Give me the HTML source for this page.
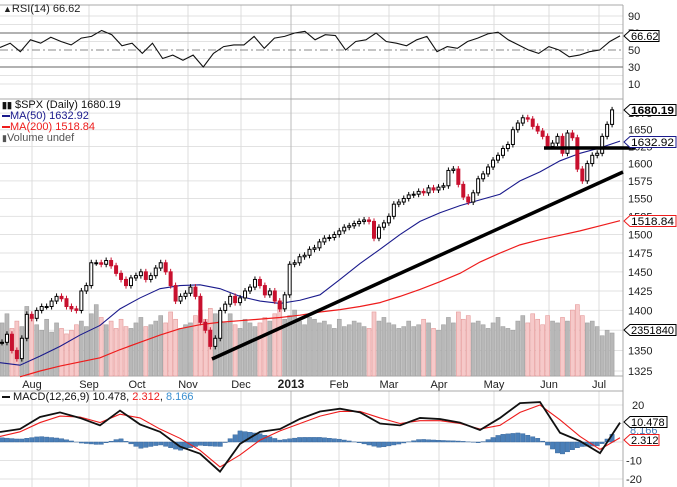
<!DOCTYPE html>
<html><head><meta charset="utf-8"><style>
body{margin:0;background:#fff;}
svg{display:block;font-family:"Liberation Sans",Arial,sans-serif;}
</style></head><body>
<svg id="c" width="677" height="487" viewBox="0 0 677 487"></svg>
<script>
// ---- data ----
const closes=[1360,1370,1350,1340,1365,1395,1390,1400,1405,1405,1412,1418,1415,1405,1402,1400,1425,1432,1462,1462,1460,1465,1458,1448,1440,1432,1442,1445,1450,1440,1445,1455,1462,1450,1432,1412,1418,1422,1430,1418,1385,1375,1355,1365,1400,1408,1418,1410,1416,1425,1430,1440,1432,1420,1425,1412,1402,1420,1460,1462,1470,1472,1480,1482,1490,1495,1496,1500,1505,1510,1512,1515,1518,1520,1518,1495,1510,1516,1525,1542,1545,1550,1555,1556,1560,1558,1565,1562,1566,1568,1590,1592,1570,1552,1545,1558,1578,1585,1595,1605,1612,1622,1628,1650,1660,1668,1666,1655,1648,1640,1625,1630,1640,1615,1645,1638,1592,1575,1600,1612,1615,1640,1658,1680];
const volumes=[2.9,3.4,2.6,3.0,2.7,3.8,3.2,2.8,2.5,3.1,2.4,2.9,2.6,2.3,2.5,2.8,3.0,2.7,3.4,3.9,3.2,2.8,3.0,2.6,3.1,2.7,2.6,2.9,3.2,2.7,2.8,3.0,3.3,2.9,3.5,3.1,2.6,2.8,2.9,3.3,3.6,3.1,3.7,3.4,3.0,2.9,3.4,2.8,2.6,3.1,2.9,2.7,2.9,3.2,3.0,3.4,4.0,3.1,3.3,3.6,3.0,2.8,3.2,3.1,2.9,3.0,2.8,2.6,3.1,2.7,2.8,3.0,2.9,2.7,2.6,3.5,3.0,3.2,2.9,2.8,2.6,2.7,3.0,2.7,2.8,3.1,2.9,2.6,2.5,2.8,3.2,2.9,3.5,3.1,3.3,2.9,3.0,2.8,2.6,2.9,3.2,2.7,2.6,2.5,3.0,3.3,2.9,3.4,3.1,2.8,3.3,3.0,2.9,3.2,3.0,3.6,3.9,3.3,2.9,3.0,2.7,2.2,2.5,2.35];
const ma50=[1335,1332,1343,1355,1369,1381,1402,1416,1428,1432,1433,1428,1418,1412,1409,1413,1420,1440,1461,1480,1500,1518,1530,1540,1548,1556,1575,1588,1604,1615,1623,1633];
const ma200=[null,1318,1325,1331,1336,1341,1351,1360,1369,1377,1382,1385,1387,1389,1391,1394,1398,1401,1405,1410,1418,1427,1437,1448,1463,1475,1486,1493,1499,1505,1512,1519];
const rsi=[53,58,48,62,58,65,60,56,64,66,73,68,55,58,46,58,40,44,38,44,30,46,54,56,56,66,52,64,66,70,72,62,68,67,50,60,62,70,60,58,55,62,66,48,54,52,60,64,69,71,62,56,50,46,54,50,42,44,48,50,60,66.6];
const macd=[5.4,7,13.5,16,13,9,17,9.5,5.5,-2.5,-6.3,-16,-1,5.5,7,12.5,16.5,18,16,10,9,13,12.4,10.5,6.5,13,21,21.6,5,0.5,-6,10.5];
const signal=[3,5.5,10.5,14,13.5,10.5,15,13,7,2,-4.5,-13.5,-7,1,6,10,14,16.5,16.5,13,10,11.5,11.5,10,7,9,16,20,12,3,-4,2.3];
const monthLabels=["Aug","Sep","Oct","Nov","Dec","2013","Feb","Mar","Apr","May","Jun","Jul"];
const monthX=[32,89,137,188,241,291,339,389,439,494,549,599];
const priceTicks=[1325,1350,1375,1400,1425,1450,1475,1500,1525,1550,1575,1600,1625,1650,1675];
const rsiTicks=[90,70,50,30,10];
const macdTicks=[20,10,0,-10,-20];

// ---- scales ----
const R=623;
const bx=i=>2+i*4.96;
const py=p=>371-1100*Math.log(p/1325);
const vy=v=>376-v*18.3;
const ry=v=>50-(v-50)*0.85;
const my=v=>442-v*1.85;
const sx=i=>i*20;
const rx=i=>i*620/(rsi.length-1);

const svg=document.getElementById('c');
const NS='http://www.w3.org/2000/svg';
function el(tag,attrs,parent){const e=document.createElementNS(NS,tag);for(const k in attrs)e.setAttribute(k,attrs[k]);(parent||svg).appendChild(e);return e;}

// grid
const grid=el('g',{});


for(let v=90;v>=10;v-=10){if(v===70||v===30||v===50)continue;el('line',{x1:0,x2:R,y1:ry(v),y2:ry(v),stroke:'#e2e2e2'},grid);}
priceTicks.forEach(p=>el('line',{x1:0,x2:R,y1:py(p),y2:py(p),stroke:'#e2e2e2'},grid));
macdTicks.forEach(m=>el('line',{x1:0,x2:R,y1:my(m),y2:my(m),stroke:'#e2e2e2'},grid));
monthX.forEach((x,i)=>{const c=i===5?'#bbb':'#dcdcdc';
 el('line',{x1:x,x2:x,y1:5,y2:99,stroke:c},grid);el('line',{x1:x,x2:x,y1:99,y2:376,stroke:c},grid);el('line',{x1:x,x2:x,y1:391,y2:487,stroke:c},grid);});
[[5],[99],[376],[391]].forEach(a=>el('line',{x1:0,x2:R,y1:a[0],y2:a[0],stroke:'#a8a8a8'},grid));
el('line',{x1:R,x2:R,y1:5,y2:487,stroke:'#a8a8a8'},grid);

// RSI
const rsiG=el('g',{});


el('line',{x1:0,x2:R,y1:ry(70),y2:ry(70),stroke:'#666'},rsiG);
el('line',{x1:0,x2:R,y1:ry(30),y2:ry(30),stroke:'#666'},rsiG);
el('line',{x1:0,x2:R,y1:ry(50),y2:ry(50),stroke:'#888','stroke-dasharray':'8,3,2,3'},rsiG);
const rl=el('polyline',{points:rsi.map((v,i)=>rx(i)+','+ry(v)).join(' '),fill:'none',stroke:'#111','stroke-width':1.1},rsiG);


rsiTicks.forEach(t=>{const tx=el('text',{x:628,y:ry(t)+4,'font-size':11,fill:'#222'},rsiG);tx.textContent=t;});

// volume
const volG=el('g',{});


volumes.forEach((v,i)=>{const down=i>0&&closes[i]<closes[i-1];
 const r=el('rect',{x:bx(i)-2,y:vy(v),width:4,height:376-vy(v),fill:down?'#f6c9c9':'#b8b8b8',stroke:down?'#e59a9a':'#a0a0a0','stroke-width':0.6},volG);
 
 });

// MAs
const ma200pts=[];ma200.forEach((v,i)=>{if(v!==null)ma200pts.push(sx(i)+','+py(v));});
const m2=el('polyline',{points:ma200pts.join(' '),fill:'none',stroke:'#ee1c1c','stroke-width':1.2});


const m1=el('polyline',{points:ma50.map((v,i)=>sx(i)+','+py(v)).join(' '),fill:'none',stroke:'#1a1a8c','stroke-width':1.1});



// price bars
const pg=el('g',{});


closes.forEach((c,i)=>{const o=i>0?closes[i-1]:c;const down=c<o;const col=down?'#c8102e':'#000';
 const top=py(Math.max(o,c)),bot=py(Math.min(o,c));
 el('line',{x1:bx(i),x2:bx(i),y1:top-3,y2:bot+3,stroke:col,'stroke-width':1},pg);
 const r=el('rect',{x:bx(i)-1.5,y:top,width:3,height:Math.max(1,bot-top),fill:down?col:'#fff',stroke:col,'stroke-width':1},pg);
 
 });

// trend lines
const t1=el('line',{x1:212,y1:359,x2:623,y2:172,stroke:'#000','stroke-width':3.5});


const t2=el('line',{x1:544,y1:148,x2:635,y2:148,stroke:'#000','stroke-width':3.5});



// price ticks
priceTicks.forEach(p=>{const tx=el('text',{x:628,y:py(p)+4,'font-size':11,fill:'#222'});tx.textContent=p;});

// MACD
const mg=el('g',{});


function interp(arr,x){const f=x/20;const i=Math.min(arr.length-2,Math.floor(f));const t=f-i;return arr[i]*(1-t)+arr[i+1]*t;}
closes.forEach((c,i)=>{const x=bx(i);const h=interp(macd,x)-interp(signal,x);
 const r=el('rect',{x:x-2.2,y:Math.min(my(h),my(0)),width:4.4,height:Math.abs(my(h)-my(0)),fill:'#4a7fb8',stroke:'#2f5f96','stroke-width':0.4},mg);
 
 });
const sl=el('polyline',{points:signal.map((v,i)=>sx(i)+','+my(v)).join(' '),fill:'none',stroke:'#ee1c1c','stroke-width':1.1},mg);


const ml=el('polyline',{points:macd.map((v,i)=>sx(i)+','+my(v)).join(' '),fill:'none',stroke:'#111','stroke-width':1.8},mg);


macdTicks.forEach(t=>{const tx=el('text',{x:t<0?626:632,y:my(t)+4,'font-size':11,fill:'#222'},mg);tx.textContent=t;});

// x labels
monthLabels.forEach((m,i)=>{const tx=el('text',{x:monthX[i],y:388,'font-size':i===5?12:11,'font-weight':i===5?'bold':'normal','text-anchor':'middle',fill:'#222'});tx.textContent=m;
 
 });

// value boxes
function box(y,text,color,bold,name){const g=el('g',{});
 
 
 const w=text.length>=7?676:(text.length===6?667:659);
 el('path',{d:`M624 ${y} L630 ${y-5.5} L${w} ${y-5.5} L${w} ${y+5.5} L630 ${y+5.5} Z`,fill:'#fff',stroke:color,'stroke-width':1},g);
 const a={x:631,y:y+4,'font-size':11,'font-weight':bold?'bold':'normal',fill:'#000'};
 if(text.length>=7){a.textLength=43;a.lengthAdjust='spacingAndGlyphs';}
 const t=el('text',a,g);t.textContent=text;}
box(36,'66.62','#000',false,'rsi-value-box');
box(110,'1680.19','#000',true,'price-value-box');
box(142,'1632.92','#1a1a8c',false,'ma50-value-box');
box(221,'1518.84','#ee1c1c',false,'ma200-value-box');
box(330,'2351840','#000',false,'volume-value-box');
const hb=el('text',{x:630,y:434,'font-size':11,fill:'#4a7fb8'});hb.textContent='8.166';
box(422,'10.478','#000',false,'macd-value-box');
box(440,'2.312','#ee1c1c',false,'signal-value-box');
</script>
<div style="position:absolute;left:0;top:0;width:677px;height:487px;pointer-events:none;font-family:'Liberation Sans',Arial,sans-serif;font-size:11px;">
 <div style="position:absolute;left:3px;top:3px;color:#222;"><span style="font-size:9px">&#9650;</span>RSI(14) 66.62</div>
 <div style="position:absolute;left:2px;top:100px;line-height:11px;">
  <div style="color:#111;"><b style="font-size:9px">&#9646;&#9646;</b> $SPX (Daily) 1680.19</div>
  <div style="color:#1a1a8c;"><span style="display:inline-block;width:8px;height:2px;background:#1a1a8c;vertical-align:middle"></span>MA(50) 1632.92</div>
  <div style="color:#ee1c1c;"><span style="display:inline-block;width:8px;height:2px;background:#ee1c1c;vertical-align:middle"></span>MA(200) 1518.84</div>
  <div style="color:#555;"><span style="font-size:9px">&#9646;</span>Volume undef</div>
 </div>
 <div style="position:absolute;left:2px;top:391px;color:#111;white-space:nowrap;"><span style="display:inline-block;width:8px;height:2px;background:#111;vertical-align:middle"></span> MACD(12,26,9) 10.478, <span style="color:#ee1c1c">2.312</span>, <span style="color:#3a8fd0">8.166</span></div>
</div>
</body></html>
